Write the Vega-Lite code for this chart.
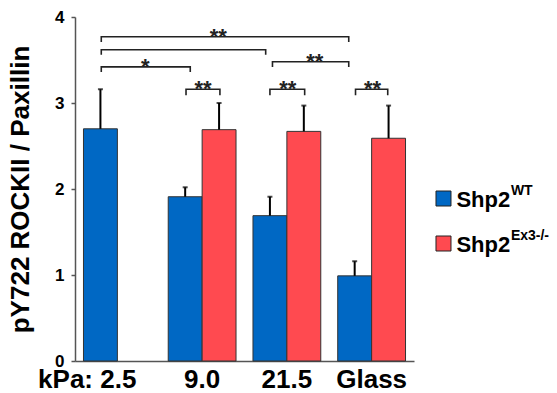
{
  "$schema": "https://vega.github.io/schema/vega-lite/v6.json",
  "width": 339,
  "height": 344,
  "autosize": {"type": "none"},
  "padding": {"left": 75, "top": 17, "right": 143, "bottom": 32},
  "background": "white",
  "config": {
    "font": "Liberation Sans",
    "view": {"stroke": null},
    "axis": {"labelColor": "black", "titleColor": "black", "grid": false}
  },
  "datasets": {
    "bars": [
      {"kpa": "2.5", "genotype": "WT", "value": 2.70, "upper": 3.16},
      {"kpa": "9.0", "genotype": "WT", "value": 1.91, "upper": 2.02},
      {"kpa": "9.0", "genotype": "Ex3-/-", "value": 2.69, "upper": 3.00},
      {"kpa": "21.5", "genotype": "WT", "value": 1.69, "upper": 1.91},
      {"kpa": "21.5", "genotype": "Ex3-/-", "value": 2.67, "upper": 2.97},
      {"kpa": "Glass", "genotype": "WT", "value": 0.99, "upper": 1.16},
      {"kpa": "Glass", "genotype": "Ex3-/-", "value": 2.59, "upper": 2.97}
    ],
    "legend": [
      {"genotype": "WT", "sup": "WT"},
      {"genotype": "Ex3-/-", "sup": "Ex3-/-"}
    ],
    "brackets": [
      {"b": "top", "o": 1, "x": 0.31, "y": 3.71},
      {"b": "top", "o": 2, "x": 0.31, "y": 3.77},
      {"b": "top", "o": 3, "x": 3.23, "y": 3.77},
      {"b": "top", "o": 4, "x": 3.23, "y": 3.71},
      {"b": "second", "o": 1, "x": 0.31, "y": 3.56},
      {"b": "second", "o": 2, "x": 0.31, "y": 3.62},
      {"b": "second", "o": 3, "x": 2.25, "y": 3.62},
      {"b": "second", "o": 4, "x": 2.25, "y": 3.56},
      {"b": "star1", "o": 1, "x": 0.31, "y": 3.36},
      {"b": "star1", "o": 2, "x": 0.31, "y": 3.42},
      {"b": "star1", "o": 3, "x": 1.36, "y": 3.42},
      {"b": "star1", "o": 4, "x": 1.36, "y": 3.36},
      {"b": "right", "o": 1, "x": 2.33, "y": 3.42},
      {"b": "right", "o": 2, "x": 2.33, "y": 3.48},
      {"b": "right", "o": 3, "x": 3.23, "y": 3.48},
      {"b": "right", "o": 4, "x": 3.23, "y": 3.42},
      {"b": "s9", "o": 1, "x": 1.31, "y": 3.09},
      {"b": "s9", "o": 2, "x": 1.31, "y": 3.16},
      {"b": "s9", "o": 3, "x": 1.71, "y": 3.16},
      {"b": "s9", "o": 4, "x": 1.71, "y": 3.09},
      {"b": "s21", "o": 1, "x": 2.30, "y": 3.09},
      {"b": "s21", "o": 2, "x": 2.30, "y": 3.16},
      {"b": "s21", "o": 3, "x": 2.71, "y": 3.16},
      {"b": "s21", "o": 4, "x": 2.71, "y": 3.09},
      {"b": "sg", "o": 1, "x": 3.31, "y": 3.09},
      {"b": "sg", "o": 2, "x": 3.31, "y": 3.16},
      {"b": "sg", "o": 3, "x": 3.69, "y": 3.16},
      {"b": "sg", "o": 4, "x": 3.69, "y": 3.09}
    ],
    "stars": [
      {"x": 1.69, "y": 3.77, "label": "**"},
      {"x": 0.83, "y": 3.42, "label": "*"},
      {"x": 2.83, "y": 3.48, "label": "**"},
      {"x": 1.51, "y": 3.16, "label": "**"},
      {"x": 2.51, "y": 3.16, "label": "**"},
      {"x": 3.51, "y": 3.16, "label": "**"}
    ]
  },
  "layer": [
    {
      "data": {"name": "bars"},
      "encoding": {
        "x": {
          "field": "kpa",
          "type": "nominal",
          "sort": ["2.5", "9.0", "21.5", "Glass"],
          "scale": {"paddingInner": 0.2, "paddingOuter": 0.1},
          "axis": {
            "title": null,
            "labelAngle": 0,
            "ticks": false,
            "tickSize": 0,
            "labelPadding": 5,
            "labelFontSize": 26,
            "labelFontWeight": "bold",
            "labelOverlap": false,
            "labelBound": false,
            "labelExpr": "datum.value == '2.5' ? 'kPa: 2.5' : datum.value",
            "labelAlign": {"condition": {"test": "datum.value == '2.5'", "value": "right"}, "value": "center"},
            "labelOffset": {"condition": {"test": "datum.value == '2.5'", "value": 19}, "value": 0},
            "domainColor": "#555",
            "domainWidth": 1.5
          }
        },
        "xOffset": {
          "field": "genotype",
          "type": "nominal",
          "sort": ["WT", "Ex3-/-"],
          "scale": {"paddingInner": 0, "paddingOuter": 0}
        }
      },
      "layer": [
        {
          "mark": {"type": "bar", "stroke": "#333", "strokeWidth": 1},
          "encoding": {
            "y": {
              "field": "value",
              "type": "quantitative",
              "stack": null,
              "scale": {"domain": [0, 4], "nice": false},
              "title": "pY722 ROCKII / Paxillin",
              "axis": {
                "values": [0, 1, 2, 3, 4],
                "format": "d",
                "tickSize": 4,
                "tickColor": "#555",
                "tickWidth": 1.5,
                "domainColor": "#555",
                "domainWidth": 1.5,
                "labelFontSize": 17,
                "labelFontWeight": "bold",
                "labelPadding": 7,
                "titleFontSize": 26,
                "titleFontWeight": "bold",
                "titlePadding": 21
              }
            },
            "color": {
              "field": "genotype",
              "type": "nominal",
              "sort": ["WT", "Ex3-/-"],
              "scale": {"domain": ["WT", "Ex3-/-"], "range": ["#0068C4", "#FF4A50"]},
              "legend": null
            }
          }
        },
        {
          "mark": {"type": "rule", "color": "black", "strokeWidth": 2},
          "encoding": {
            "y": {"field": "value", "type": "quantitative", "title": "pY722 ROCKII / Paxillin"},
            "y2": {"field": "upper"}
          }
        },
        {
          "mark": {"type": "tick", "color": "black", "thickness": 2, "size": 5, "orient": "horizontal"},
          "encoding": {
            "y": {"field": "upper", "type": "quantitative", "title": "pY722 ROCKII / Paxillin"}
          }
        }
      ]
    },
    {
      "layer": [
        {
          "data": {"name": "brackets"},
          "mark": {"type": "line", "color": "#222", "strokeWidth": 1.6, "clip": false},
          "encoding": {
            "x": {"field": "x", "type": "quantitative", "scale": {"domain": [0, 4], "nice": false, "zero": false}, "axis": null},
            "y": {"field": "y", "type": "quantitative", "scale": {"domain": [0, 4], "nice": false}, "axis": null},
            "detail": {"field": "b"},
            "order": {"field": "o"}
          }
        },
        {
          "data": {"name": "stars"},
          "mark": {"type": "text", "fontSize": 22, "fontWeight": "bold", "baseline": "middle", "color": "#222"},
          "encoding": {
            "x": {"field": "x", "type": "quantitative", "axis": null},
            "y": {"field": "y", "type": "quantitative", "axis": null},
            "text": {"field": "label"}
          }
        }
      ]
    },
    {
      "data": {"name": "legend"},
      "encoding": {
        "y": {
          "field": "genotype",
          "type": "nominal",
          "sort": ["WT", "Ex3-/-"],
          "scale": {"type": "point", "range": [181.5, 226.5], "padding": 0},
          "axis": null
        }
      },
      "layer": [
        {
          "mark": {"type": "point", "shape": "square", "size": 225, "filled": true, "opacity": 1, "stroke": "#222", "strokeWidth": 1, "clip": false},
          "encoding": {
            "x": {"datum": 4.348, "type": "quantitative", "scale": {"domain": [0, 4], "nice": false, "zero": false}, "axis": null},
            "color": {
              "field": "genotype",
              "type": "nominal",
              "sort": ["WT", "Ex3-/-"],
              "scale": {"domain": ["WT", "Ex3-/-"], "range": ["#0068C4", "#FF4A50"]},
              "legend": null
            }
          }
        },
        {
          "mark": {"type": "text", "align": "left", "baseline": "alphabetic", "dy": 8.2, "fontSize": 22, "fontWeight": "bold", "color": "black", "clip": false},
          "encoding": {
            "x": {"datum": 4.5, "type": "quantitative"},
            "text": {"value": "Shp2"}
          }
        },
        {
          "mark": {"type": "text", "align": "left", "baseline": "alphabetic", "dx": 54.5, "dy": -3.3, "fontSize": 14, "fontWeight": "bold", "color": "black", "clip": false},
          "encoding": {
            "x": {"datum": 4.5, "type": "quantitative"},
            "text": {"field": "sup"}
          }
        }
      ]
    }
  ],
  "resolve": {"scale": {"x": "independent", "y": "independent"}}
}
